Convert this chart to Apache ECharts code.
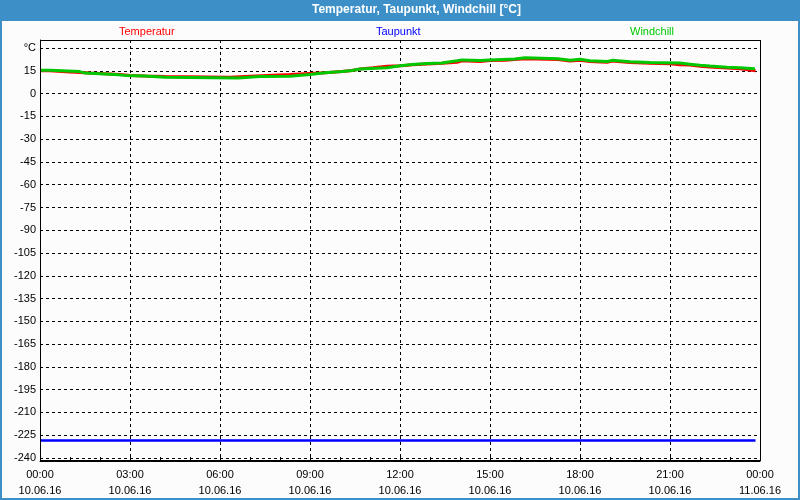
<!DOCTYPE html>
<html>
<head>
<meta charset="utf-8">
<script src="https://cdn.jsdelivr.net/npm/echarts@6/dist/echarts.min.js"></script>
<style>
html,body{margin:0;padding:0;background:#fbfcfb;}
#chart{width:800px;height:500px;}
</style>
</head>
<body>
<div id="chart"></div>
<script>
// ---- data (hours since 10.06.16 00:00) ----
var tempTimes = [0, 0.33, 1.0, 1.67, 2.67, 3.0, 3.5, 4.17, 6.33, 7.0, 8.33, 9.0, 9.5, 10.07, 10.4, 10.67, 11.1, 11.57, 12.0, 12.17, 12.4, 12.9, 13.4, 13.9, 14.07, 14.67, 15.0, 15.5, 15.83, 16.17, 17.27, 17.67, 18.0, 18.33, 18.9, 19.07, 19.67, 20.33, 21.0, 21.33, 21.67, 22.0, 22.33, 22.9, 23.33, 23.67, 23.85];
var tempValues = [15.0, 14.3, 13.5, 12.6, 12.0, 11.6, 11.2, 10.7, 11.5, 12.5, 13.2, 13.7, 14.5, 15.2, 16.2, 17.0, 18.0, 18.3, 18.5, 19.0, 19.5, 20.0, 20.6, 21.6, 21.2, 21.8, 22.0, 22.4, 23.0, 22.4, 21.4, 22.0, 21.2, 20.6, 21.4, 20.5, 20.0, 19.6, 19.0, 18.8, 18.0, 17.5, 16.9, 16.4, 15.6, 15.0, 15.0];

var chillTimes = [0, 0.33, 1.33, 1.5, 2.5, 2.83, 3.5, 4.17, 6.6, 7.33, 8.33, 9.0, 9.5, 10.07, 10.4, 10.67, 11.57, 12.0, 12.17, 12.4, 12.9, 13.4, 13.67, 13.9, 14.07, 14.67, 15.0, 15.83, 16.17, 17.27, 17.67, 18.0, 18.33, 18.9, 19.07, 19.67, 20.33, 21.33, 21.67, 22.0, 22.33, 22.9, 23.33, 23.83];
var chillValues = [15.3, 14.5, 13.5, 12.6, 12.0, 11.6, 10.7, 10.2, 11.2, 11.5, 12.6, 13.7, 14.5, 15.2, 16.2, 17.0, 18.3, 18.7, 19.2, 19.8, 20.2, 21.0, 21.6, 22.2, 21.8, 22.2, 22.8, 23.6, 22.9, 21.9, 22.6, 21.7, 21.2, 21.9, 21.0, 20.5, 20.1, 19.4, 18.7, 18.1, 17.4, 17.0, 16.3, 16.3];

var dewTimes = [0, 23.85];
var dewValues = [-228.5, -228.5];

var timeLabels = ['00:00', '03:00', '06:00', '09:00', '12:00', '15:00', '18:00', '21:00', '00:00'];
var dateLabels = ['10.06.16', '10.06.16', '10.06.16', '10.06.16', '10.06.16', '10.06.16', '10.06.16', '10.06.16', '11.06.16'];
var yTopLabel = '°C';

var seriesNames = ['Temperatur', 'Taupunkt', 'Windchill'];
var seriesColors = ['#ff0000', '#0000ff', '#00c800'];

function pairs(ts, vs) {
  var out = [];
  for (var i = 0; i < ts.length; i++) out.push([ts[i], vs[i]]);
  return out;
}

var FONT = 'Liberation Sans';
var chart = echarts.init(document.getElementById('chart'), null, {renderer: 'canvas'});

var legendLefts = [114, 371, 625];
var legends = seriesNames.map(function (n, i) {
  return {
    data: [n], left: legendLefts[i], top: 25, padding: 0,
    icon: 'none', itemWidth: 0, itemHeight: 14, selectedMode: false,
    textStyle: {color: seriesColors[i], fontFamily: FONT, fontSize: 11}
  };
});

chart.setOption({
  animation: false,
  backgroundColor: '#fbfcfb',
  title: {
    text: 'Temperatur, Taupunkt, Windchill [°C]',
    left: 312, top: 0, padding: [4, 0, 0, 0],
    textStyle: {color: '#ffffff', fontFamily: FONT, fontSize: 12, fontWeight: 'bold'}
  },
  legend: legends,
  graphic: [
    {type: 'rect', z: -10, shape: {x: 0, y: 0, width: 800, height: 21}, style: {fill: '#3d8fc8'}},
    {type: 'rect', z: -10, shape: {x: 1, y: 1, width: 798, height: 498}, style: {fill: 'none', stroke: '#3d8fc8', lineWidth: 2}},
    {type: 'rect', z: 100, shape: {x: 40.5, y: 40.5, width: 720, height: 420}, style: {fill: 'none', stroke: '#000', lineWidth: 1}}
  ],
  grid: {left: 40, right: 40, top: 40, bottom: 42},
  xAxis: {
    type: 'value', min: 0, max: 24, interval: 3, offset: 3,
    axisLine: {show: true, onZero: false, lineStyle: {color: '#000', width: 1}},
    axisTick: {show: true, inside: true, length: 4, lineStyle: {color: '#000'}},
    minorTick: {show: true, splitNumber: 3, length: 4, lineStyle: {color: '#000'}},
    splitLine: {show: true, lineStyle: {color: '#000', type: [3, 3], width: 1}},
    axisLabel: {
      color: '#000', fontFamily: FONT, fontSize: 11, lineHeight: 16, margin: 6,
      showMinLabel: true, showMaxLabel: true,
      formatter: function (v) {
        var i = Math.round(v / 3);
        return timeLabels[i] + '\n' + dateLabels[i];
      }
    }
  },
  yAxis: {
    type: 'value', min: -240, max: 35.3, interval: 15,
    axisLine: {show: true, onZero: false, lineStyle: {color: '#000'}},
    axisTick: {show: false},
    splitLine: {show: true, lineStyle: {color: '#000', type: [3, 3], width: 1}},
    axisLabel: {
      color: '#000', fontFamily: FONT, fontSize: 11, margin: 4,
      formatter: function (v) {
        if (Math.abs(v % 15) > 0.01) return '';
        if (v === 30) return yTopLabel;
        return String(v);
      }
    }
  },
  series: [
    {name: seriesNames[0], type: 'line', step: 'end', symbol: 'none', data: pairs(tempTimes, tempValues),
     lineStyle: {color: seriesColors[0], width: 3}, itemStyle: {color: seriesColors[0]}},
    {name: seriesNames[1], type: 'line', symbol: 'none', data: pairs(dewTimes, dewValues),
     lineStyle: {color: seriesColors[1], width: 2.5}, itemStyle: {color: seriesColors[1]}},
    {name: seriesNames[2], type: 'line', step: 'end', symbol: 'none', data: pairs(chillTimes, chillValues),
     lineStyle: {color: seriesColors[2], width: 3}, itemStyle: {color: seriesColors[2]}}
  ]
});
</script>
</body>
</html>
